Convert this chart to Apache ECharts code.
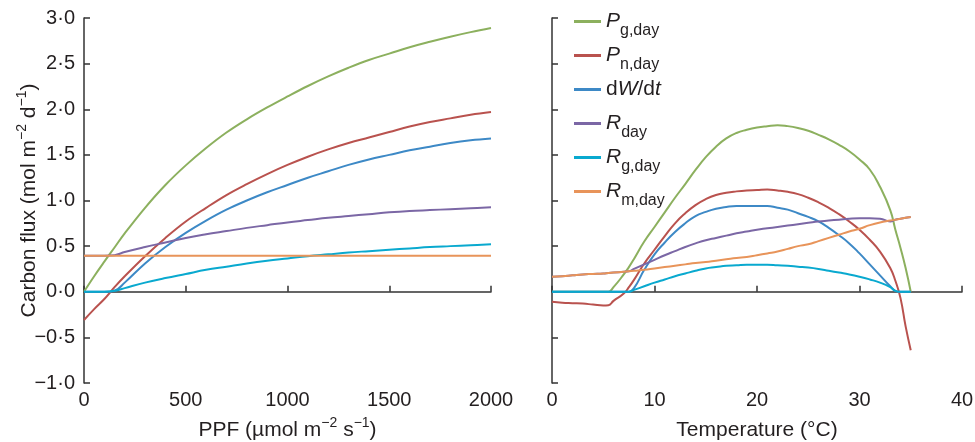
<!DOCTYPE html>
<html>
<head>
<meta charset="utf-8">
<script src="https://cdn.jsdelivr.net/npm/echarts@6/dist/echarts.min.js"></script>
<style>
html, body { margin: 0; padding: 0; background: #fff; }
#main { width: 975px; height: 442px; }
</style>
</head>
<body>
<div id="main"></div>
<script>
// left panel: response to PPF
const ppf = [0, 50, 100, 150, 200, 300, 400, 500, 600, 700, 800, 900, 1000, 1100, 1200, 1300, 1400, 1500, 1600, 1700, 1800, 1900, 2000];
const ppfPg = [0, 0.17, 0.33, 0.485, 0.64, 0.92, 1.17, 1.385, 1.575, 1.745, 1.89, 2.02, 2.14, 2.255, 2.36, 2.455, 2.54, 2.61, 2.68, 2.74, 2.795, 2.845, 2.89];
const ppfPn = [-0.31, -0.19, -0.08, 0.05, 0.17, 0.39, 0.59, 0.77, 0.92, 1.06, 1.18, 1.29, 1.39, 1.48, 1.56, 1.63, 1.69, 1.75, 1.81, 1.86, 1.90, 1.94, 1.97];
const ppfDW = [0, 0, 0, 0.01, 0.10, 0.31, 0.49, 0.645, 0.78, 0.90, 1.00, 1.09, 1.17, 1.25, 1.32, 1.39, 1.45, 1.50, 1.55, 1.59, 1.63, 1.66, 1.68];
const ppfR = [0.395, 0.395, 0.395, 0.40, 0.435, 0.49, 0.54, 0.59, 0.63, 0.665, 0.70, 0.73, 0.76, 0.785, 0.81, 0.83, 0.85, 0.87, 0.885, 0.895, 0.905, 0.915, 0.925];
const ppfRg = [0, 0, 0, 0.01, 0.04, 0.10, 0.15, 0.195, 0.24, 0.275, 0.31, 0.34, 0.365, 0.39, 0.41, 0.43, 0.445, 0.46, 0.475, 0.49, 0.50, 0.51, 0.52];
const ppfRm = [0.395, 0.395, 0.395, 0.395, 0.395, 0.395, 0.395, 0.395, 0.395, 0.395, 0.395, 0.395, 0.395, 0.395, 0.395, 0.395, 0.395, 0.395, 0.395, 0.395, 0.395, 0.395, 0.395];

// right panel: response to temperature
const temp = [0, 1, 2, 3, 4, 5, 5.5, 6, 7, 7.5, 8, 9, 10, 11, 12, 13, 14, 15, 16, 17, 18, 19, 20, 21, 22, 23, 24, 25, 26, 27, 28, 29, 30, 31, 32, 33, 33.5, 34, 34.5, 35];
const tPg = [0, 0, 0, 0, 0, 0, 0, 0.05, 0.19, 0.27, 0.36, 0.55, 0.71, 0.87, 1.03, 1.18, 1.335, 1.475, 1.59, 1.68, 1.74, 1.775, 1.80, 1.815, 1.825, 1.815, 1.795, 1.765, 1.72, 1.67, 1.61, 1.54, 1.45, 1.34, 1.15, 0.895, 0.68, 0.48, 0.26, 0];
const tPn = [-0.11, -0.12, -0.125, -0.13, -0.14, -0.15, -0.148, -0.10, -0.02, 0.05, 0.13, 0.31, 0.46, 0.61, 0.75, 0.86, 0.95, 1.015, 1.06, 1.085, 1.10, 1.11, 1.115, 1.12, 1.11, 1.095, 1.07, 1.03, 0.98, 0.92, 0.85, 0.77, 0.68, 0.57, 0.44, 0.26, 0.12, -0.07, -0.38, -0.64];
const tDW = [0, 0, 0, 0, 0, 0, 0, 0, 0, 0, 0.04, 0.24, 0.41, 0.54, 0.655, 0.75, 0.83, 0.875, 0.91, 0.93, 0.94, 0.94, 0.94, 0.94, 0.92, 0.90, 0.86, 0.82, 0.77, 0.70, 0.62, 0.53, 0.42, 0.30, 0.18, 0.06, 0.01, 0, 0, 0];
const tR = [0.165, 0.17, 0.18, 0.19, 0.195, 0.20, 0.205, 0.21, 0.22, 0.225, 0.25, 0.30, 0.35, 0.40, 0.445, 0.49, 0.53, 0.565, 0.59, 0.615, 0.64, 0.66, 0.68, 0.695, 0.71, 0.725, 0.74, 0.755, 0.77, 0.78, 0.79, 0.80, 0.805, 0.805, 0.80, 0.77, 0.79, 0.80, 0.81, 0.82];
const tRg = [0, 0, 0, 0, 0, 0, 0, 0, 0, 0, 0.02, 0.06, 0.10, 0.135, 0.17, 0.20, 0.23, 0.255, 0.27, 0.285, 0.29, 0.295, 0.295, 0.295, 0.29, 0.285, 0.275, 0.265, 0.25, 0.23, 0.21, 0.19, 0.165, 0.135, 0.10, 0.05, 0.01, 0, 0, 0];
const tRm = [0.165, 0.17, 0.18, 0.19, 0.195, 0.20, 0.205, 0.21, 0.22, 0.225, 0.23, 0.24, 0.255, 0.27, 0.285, 0.30, 0.315, 0.325, 0.34, 0.355, 0.37, 0.38, 0.40, 0.42, 0.44, 0.47, 0.50, 0.52, 0.555, 0.59, 0.625, 0.66, 0.69, 0.73, 0.76, 0.78, 0.79, 0.80, 0.81, 0.82];

const names = ['Pg,day', 'Pn,day', 'dW/dt', 'Rday', 'Rg,day', 'Rm,day'];
const colors = ['#8cb05e', '#b9524e', '#3d89c6', '#7b67a5', '#09a9cf', '#e8945a'];
const legendText = {
  'Pg,day': '{i|P}{s|g,day}',
  'Pn,day': '{i|P}{s|n,day}',
  'dW/dt': '{m|d}{i|W}{m|/d}{i|t}',
  'Rday': '{i|R}{s|day}',
  'Rg,day': '{i|R}{s|g,day}',
  'Rm,day': '{i|R}{s|m,day}'
};

const FONT = '"Liberation Sans", Arial, sans-serif';
const INK = '#231f20';
const AXIS = '#333';

const chart = echarts.init(document.getElementById('main'));

function pairs(xs, ys) {
  return xs.map((x, i) => [x, ys[i]]);
}

const leftSets = [ppfPg, ppfPn, ppfDW, ppfR, ppfRg, ppfRm];
const rightSets = [tPg, tPn, tDW, tR, tRg, tRm];

const series = [];
names.forEach((n, k) => {
  series.push({
    name: n, type: 'line', xAxisIndex: 1, yAxisIndex: 0,
    data: pairs(ppf, leftSets[k]), smooth: 0.4, symbol: 'none',
    lineStyle: { color: colors[k], width: 2 }, itemStyle: { color: colors[k] }
  });
});
names.forEach((n, k) => {
  series.push({
    name: n, type: 'line', xAxisIndex: 3, yAxisIndex: 1,
    data: pairs(temp, rightSets[k]), smooth: 0.5, symbol: 'none',
    lineStyle: { color: colors[k], width: 2 }, itemStyle: { color: colors[k] }
  });
});

const nameRich = {
  n: { fontSize: 21, lineHeight: 22, color: INK, fontFamily: FONT },
  u: { fontSize: 14, lineHeight: 16, padding: [0, 0, 14, 0], color: INK, fontFamily: FONT }
};

function labelAxis(grid, max, interval, name, gap) {
  return {
    type: 'value', gridIndex: grid, min: 0, max: max, interval: interval,
    position: 'bottom',
    axisLine: { show: false, onZero: false }, axisTick: { show: false }, splitLine: { show: false },
    axisLabel: { color: INK, fontSize: 20, fontFamily: FONT, margin: 7, formatter: v => String(v) },
    name: name, nameLocation: 'middle', nameGap: gap, nameMoveOverlap: false,
    nameTextStyle: { color: INK, fontSize: 21, fontFamily: FONT, rich: nameRich }
  };
}

function lineAxis(grid, max, interval) {
  return {
    type: 'value', gridIndex: grid, min: 0, max: max, interval: interval,
    position: 'bottom',
    axisLine: { show: true, onZero: true, lineStyle: { color: AXIS, width: 1.5 } },
    axisTick: { show: true, inside: true, length: 6, lineStyle: { color: AXIS, width: 1.5 } },
    axisLabel: { show: false }, splitLine: { show: false }
  };
}

function yAxis(grid, labels) {
  return {
    type: 'value', gridIndex: grid, min: -1, max: 3, interval: 0.5,
    axisLine: { show: true, onZero: false, lineStyle: { color: AXIS, width: 1.5 } },
    axisTick: { show: true, inside: true, length: 6, lineStyle: { color: AXIS, width: 1.5 } },
    splitLine: { show: false },
    axisLabel: {
      show: labels, color: INK, fontSize: 20, fontFamily: FONT, margin: 9,
      formatter: v => (v < 0 ? '\u2212' : '') + Math.abs(v).toFixed(1).replace('.', '\u00b7')
    },
    name: labels ? '{n|Carbon flux (mol m}{u|\u22122}{n| d}{u|\u22121}{n|)}' : '',
    nameLocation: 'middle', nameGap: 44, nameMoveOverlap: false,
    nameTextStyle: { color: INK, fontSize: 21, fontFamily: FONT, rich: nameRich }
  };
}

const option = {
  animation: false,
  backgroundColor: '#fff',
  textStyle: { fontFamily: FONT, color: INK },
  grid: [
    { left: 84, top: 18, width: 407, height: 365, outerBoundsMode: 'none', containLabel: false },
    { left: 552, top: 18, width: 410, height: 365, outerBoundsMode: 'none', containLabel: false }
  ],
  legend: {
    data: names, orient: 'vertical', left: 574, top: 4, padding: 0, itemGap: -1,
    itemWidth: 27, itemHeight: 3, icon: 'rect', selectedMode: false,
    formatter: n => legendText[n],
    textStyle: {
      color: INK, fontFamily: FONT,
      rich: {
        m: { fontSize: 21, lineHeight: 22, padding: [7, 0, 7, 0], color: INK, fontFamily: FONT },
        i: { fontSize: 21, lineHeight: 22, fontStyle: 'italic', padding: [7, 0, 7, 0], color: INK, fontFamily: FONT },
        s: { fontSize: 16, lineHeight: 18, padding: [18, 0, 0, 0], color: INK, fontFamily: FONT }
      }
    }
  },
  xAxis: [
    labelAxis(0, 2000, 500, '{n|PPF (\u00b5mol m}{u|\u22122}{n| s}{u|\u22121}{n|)}', 36),
    lineAxis(0, 2000, 500),
    labelAxis(1, 40, 10, '{n|Temperature (\u00b0C)}', 36),
    lineAxis(1, 40, 10)
  ],
  yAxis: [yAxis(0, true), yAxis(1, false)],
  series: series
};

chart.setOption(option);
</script>
</body>
</html>
